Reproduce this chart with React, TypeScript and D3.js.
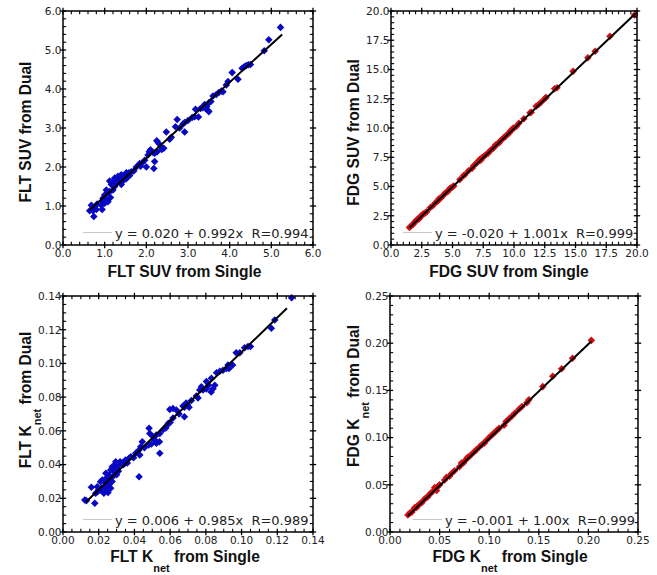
import React from 'react';
import * as d3 from 'd3';

// ---------- Data ----------
// Panel A: FLT SUV
const fltSuvSingle = [5.22,4.94,4.83,4.30,4.35,4.40,4.45,4.50,4.06,3.96,3.92,3.80,3.84,3.74,3.68,3.60,3.40,3.45,3.50,3.42,3.48,3.50,3.35,3.30,3.18,3.10,3.16,3.00,2.92,2.88,2.74,2.70,2.92,2.56,2.60,2.48,2.42,2.37,2.30,2.26,2.20,2.16,2.25,2.07,2.04,2.10,2.18,2.20,1.96,1.90,1.84,2.00,1.76,1.70,1.64,1.58,1.52,1.48,1.40,1.36,1.32,1.28,1.24,1.44,1.40,1.20,1.16,1.12,1.24,1.20,1.12,1.04,1.08,1.00,0.96,1.04,1.00,1.08,0.96,0.92,0.94,0.82,0.76,0.68,0.64,0.72,0.74,0.80,1.30,1.52,1.60,1.86,2.35,1.14,2.80,3.25,3.55,4.20];
const fltSuvDual = [5.58,5.26,4.98,4.53,4.57,4.60,4.62,4.63,4.42,4.19,4.10,3.95,3.93,3.91,3.86,3.82,3.60,3.55,3.65,3.50,3.45,3.42,3.52,3.50,3.48,3.27,3.29,3.19,3.14,3.10,3.22,3.03,2.90,2.71,2.76,2.90,2.48,2.45,2.60,2.39,2.35,2.37,2.67,2.39,2.31,2.44,1.96,2.14,2.17,2.10,2.09,2.00,2.00,1.90,1.88,1.85,1.85,1.76,1.80,1.72,1.76,1.68,1.72,1.64,1.55,1.60,1.55,1.64,1.50,1.41,1.37,1.41,1.32,1.28,1.20,1.15,1.07,1.11,1.11,1.02,0.91,1.05,0.98,1.02,0.88,0.88,0.73,0.91,1.62,1.70,1.78,2.02,2.52,1.22,3.00,3.28,3.68,4.25];

// Panel B: FDG SUV
const fdgSuvSingle = [1.5,1.6,1.8,1.9,2.0,2.1,2.2,2.3,2.4,2.5,2.6,2.7,2.8,2.9,3.2,3.4,3.6,3.8,3.9,4.0,4.1,4.3,4.4,4.6,4.7,4.8,4.9,5.0,5.1,5.6,5.9,6.0,6.3,6.6,6.7,6.9,7.0,7.1,7.2,7.3,7.4,7.5,7.6,7.7,7.9,8.0,8.1,8.3,8.4,8.5,8.6,8.8,8.9,9.0,9.2,9.3,9.4,9.6,9.7,9.8,9.9,10.0,10.2,10.4,10.8,11.3,11.4,11.8,12.0,12.2,12.5,12.6,13.3,13.5,14.8,16.0,16.6,17.8,19.8];
const fdgSuvDual = [1.5,1.6,1.75,1.95,2.0,2.15,2.2,2.25,2.45,2.5,2.65,2.7,2.75,2.85,3.2,3.35,3.6,3.75,3.95,4.0,4.05,4.3,4.45,4.55,4.7,4.85,4.9,4.95,5.05,5.6,5.95,6.0,6.35,6.55,6.75,6.95,7.05,7.15,7.3,7.25,7.45,7.55,7.6,7.7,7.85,8.0,8.1,8.25,8.4,8.55,8.6,8.75,8.9,9.0,9.2,9.25,9.4,9.55,9.75,9.8,9.95,10.0,10.15,10.4,10.8,11.3,11.35,11.85,12.0,12.2,12.5,12.6,13.35,13.45,14.85,16.0,16.55,17.85,19.65];

// Panel C: FLT Knet
const fltKSingle = [0.128,0.1186,0.1167,0.1036,0.1017,0.105,0.099,0.097,0.0924,0.0915,0.0896,0.0878,0.086,0.0831,0.0803,0.0775,0.0766,0.0784,0.0803,0.083,0.084,0.0747,0.0756,0.0719,0.069,0.0672,0.068,0.0696,0.0635,0.0616,0.0598,0.068,0.0616,0.059,0.0576,0.0561,0.0542,0.0482,0.0486,0.0505,0.0523,0.0514,0.054,0.0523,0.0495,0.0542,0.048,0.0444,0.0435,0.0426,0.0407,0.043,0.038,0.0426,0.037,0.035,0.032,0.0295,0.0314,0.0332,0.029,0.030,0.0276,0.0267,0.0285,0.0258,0.024,0.0287,0.0268,0.024,0.022,0.021,0.024,0.0258,0.0267,0.0249,0.0192,0.021,0.0183,0.0229,0.0201,0.0252,0.0159,0.0122,0.0131,0.0178,0.0195,0.0215,0.0232,0.0275,0.030,0.031,0.034,0.036,0.0395,0.0456,0.058,0.060,0.065,0.0706,0.0815,0.085,0.095,0.093];
const fltKDual = [0.139,0.1258,0.1208,0.110,0.1093,0.110,0.1064,0.1064,0.099,0.097,0.096,0.0953,0.0945,0.0912,0.0893,0.0862,0.0843,0.0843,0.0848,0.083,0.085,0.0807,0.0795,0.078,0.0765,0.0747,0.074,0.0757,0.0724,0.0733,0.0727,0.0684,0.0676,0.0645,0.0617,0.0608,0.0585,0.0615,0.0585,0.0565,0.0575,0.0546,0.0536,0.0526,0.0522,0.0467,0.0516,0.0536,0.0506,0.0486,0.0467,0.0457,0.0447,0.0328,0.0437,0.0427,0.0417,0.0417,0.0397,0.041,0.0397,0.0378,0.0387,0.0368,0.036,0.0338,0.0348,0.0338,0.0318,0.0318,0.0308,0.0298,0.0289,0.028,0.0259,0.0249,0.0269,0.0249,0.023,0.023,0.025,0.0235,0.0265,0.019,0.0185,0.017,0.024,0.026,0.027,0.030,0.034,0.036,0.040,0.041,0.044,0.050,0.063,0.065,0.070,0.074,0.087,0.087,0.099,0.097];

// Panel D: FDG Knet
const fdgKSingle = [0.018,0.020,0.022,0.024,0.025,0.027,0.028,0.030,0.032,0.034,0.036,0.038,0.040,0.041,0.043,0.045,0.046,0.047,0.048,0.050,0.055,0.057,0.060,0.062,0.065,0.070,0.072,0.074,0.076,0.078,0.080,0.082,0.085,0.087,0.090,0.093,0.095,0.097,0.100,0.102,0.104,0.106,0.108,0.110,0.115,0.117,0.120,0.123,0.126,0.130,0.133,0.138,0.140,0.154,0.164,0.173,0.184,0.203];
const fdgKDual = [0.018,0.020,0.021,0.024,0.026,0.026,0.028,0.030,0.031,0.034,0.036,0.037,0.040,0.041,0.043,0.047,0.046,0.044,0.048,0.050,0.055,0.058,0.059,0.062,0.065,0.069,0.073,0.073,0.076,0.079,0.080,0.082,0.085,0.087,0.090,0.093,0.094,0.097,0.100,0.102,0.104,0.106,0.108,0.110,0.113,0.117,0.120,0.123,0.126,0.130,0.133,0.137,0.140,0.154,0.165,0.173,0.184,0.203];

// Fitted lines as drawn in the picture: [x start, y start, x end, y end]
const fitLineA = [0.64, 0.90, 5.26, 5.40];
const fitLineB = [1.5, 1.48, 19.9, 19.8];
const fitLineC = [0.0127, 0.0176, 0.1254, 0.1327];
const fitLineD = [0.018, 0.017, 0.203, 0.202];

const axisMax = [6, 20, 0.14, 0.25];
const majorSteps = [1, 2.5, 0.02, 0.05];
const minorSteps = [0.2, 0.5, 0.005, 0.01];
const tickFormats = ['.1f', '.1f', '.2f', '.2f'];
const equations = [
  'y = 0.020 + 0.992x  R=0.994',
  'y = -0.020 + 1.001x  R=0.999',
  'y = 0.006 + 0.985x  R=0.989',
  'y = -0.001 + 1.00x  R=0.999',
];
const xTitles = [['FLT SUV from Single'], ['FDG SUV from Single'], ['FLT K', 'net', ' from Single'], ['FDG K', 'net', ' from Single']];
const yTitles = [['FLT SUV from Dual'], ['FDG SUV from Dual'], ['FLT K', 'net', ' from Dual'], ['FDG K', 'net', ' from Dual']];
const seriesX = [fltSuvSingle, fdgSuvSingle, fltKSingle, fdgKSingle];
const seriesY = [fltSuvDual, fdgSuvDual, fltKDual, fdgKDual];
const fitLines = [fitLineA, fitLineB, fitLineC, fitLineD];
const colors = ['#0808c4', '#d01010', '#0808c4', '#d01010'];

// ---------- Layout ----------
const boxes = [
  { l: 63, r: 313, t: 11, b: 245 },
  { l: 391, r: 637, t: 11, b: 245 },
  { l: 63, r: 313, t: 296, b: 532 },
  { l: 390, r: 638, t: 296, b: 532 },
];
const xTitlePos = [[184.5, 277], [509, 277], [185, 562], [510, 562]];
const yTitlePos = [[31, 132], [359, 132.5], [31, 400], [359, 396]];
const eqStart = [115, 435, 115, 445];

const TICK_FONT = 'DejaVu Sans, Verdana, sans-serif';
const TITLE_FONT = 'Liberation Sans, Arial, Helvetica, sans-serif';

function Title({ parts, x, y, rotate }: { parts: string[]; x: number; y: number; rotate?: boolean }) {
  const content = parts.length === 1 ? parts[0] : (
    <>
      {parts[0]}
      <tspan dy={9.5} fontSize={11}>{parts[1]}</tspan>
      <tspan dy={-9.5}>{parts[2]}</tspan>
    </>
  );
  return (
    <text
      transform={rotate ? `translate(${x},${y}) rotate(-90)` : `translate(${x},${y})`}
      textAnchor="middle"
      fontFamily={TITLE_FONT}
      fontWeight="bold"
      fontSize={15.6}
      fill="#111"
      style={{ whiteSpace: 'pre' }}
    >
      {content}
    </text>
  );
}

function Panel({ i }: { i: number }) {
  const bx = boxes[i];
  const max = axisMax[i];
  const x = d3.scaleLinear().domain([0, max]).range([bx.l, bx.r]);
  const y = d3.scaleLinear().domain([0, max]).range([bx.b, bx.t]);
  const majors = d3.range(0, max + majorSteps[i] / 2, majorSteps[i]);
  const minors = d3.range(0, max + minorSteps[i] / 2, minorSteps[i]).filter(
    (v) => Math.abs(v / majorSteps[i] - Math.round(v / majorSteps[i])) > 1e-6
  );
  const fmt = d3.format(tickFormats[i]);
  const xs = seriesX[i];
  const ys = seriesY[i];
  const pts = xs.map((v, k) => [v, ys[k]] as [number, number]);
  const fl = fitLines[i];
  const line = d3.line<[number, number]>().x((d) => x(d[0])).y((d) => y(d[1]));
  const sym = d3.symbol().type(d3.symbolDiamond2).size(36)();
  const tk = 3.2;
  const es = eqStart[i];
  const eqY = bx.b - 7.5;
  return (
    <g>
      {pts.map(([px, py], k) => (
        <path key={k} d={sym!} transform={`translate(${x(px)},${y(py)})`} fill={colors[i]} />
      ))}
      <path d={line([[fl[0], fl[1]], [fl[2], fl[3]]])!} stroke="#000" strokeWidth={2} fill="none" />
      <line x1={es - 32} x2={es - 3} y1={eqY - 5} y2={eqY - 5} stroke="#c8c8c8" strokeWidth={1} />
      <text x={es} y={eqY} fontFamily={TICK_FONT} fontSize={13} fill="#222" style={{ whiteSpace: 'pre' }}>
        {equations[i]}
      </text>
      <rect x={bx.l} y={bx.t} width={bx.r - bx.l} height={bx.b - bx.t} fill="none" stroke="#000" strokeWidth={1.5} />
      {majors.map((v, k) => (
        <g key={'M' + k} stroke="#000" strokeWidth={1.3}>
          <line x1={x(v)} x2={x(v)} y1={bx.b - tk} y2={bx.b + tk} />
          <line x1={x(v)} x2={x(v)} y1={bx.t - tk} y2={bx.t + tk} />
          <line y1={y(v)} y2={y(v)} x1={bx.l - tk} x2={bx.l + tk} />
          <line y1={y(v)} y2={y(v)} x1={bx.r - tk} x2={bx.r + tk} />
        </g>
      ))}
      {minors.map((v, k) => (
        <g key={'m' + k} stroke="#000" strokeWidth={1.1}>
          <line x1={x(v)} x2={x(v)} y1={bx.b - tk} y2={bx.b} />
          <line x1={x(v)} x2={x(v)} y1={bx.t} y2={bx.t + tk} />
          <line y1={y(v)} y2={y(v)} x1={bx.l} x2={bx.l + tk} />
          <line y1={y(v)} y2={y(v)} x1={bx.r - tk} x2={bx.r} />
        </g>
      ))}
      {majors.map((v, k) => (
        <text key={'xl' + k} x={x(v)} y={bx.b + 11.5} textAnchor="middle" fontFamily={TICK_FONT} fontSize={10.5} fill="#222">
          {fmt(v)}
        </text>
      ))}
      {majors.map((v, k) => (
        <text key={'yl' + k} x={bx.l - 1.5} y={y(v) + 3.8} textAnchor="end" fontFamily={TICK_FONT} fontSize={10.5} fill="#222">
          {fmt(v)}
        </text>
      ))}
      <Title parts={xTitles[i]} x={xTitlePos[i][0]} y={xTitlePos[i][1]} />
      <Title parts={yTitles[i]} x={yTitlePos[i][0]} y={yTitlePos[i][1]} rotate />
    </g>
  );
}

export default function App() {
  return (
    <svg
      width={657}
      height={575}
      viewBox="0 0 657 575"
      style={{ position: 'absolute', left: 0, top: 0, background: '#fff' }}
    >
      <rect x={0} y={0} width={657} height={575} fill="#fff" />
      {[0, 1, 2, 3].map((i) => (
        <Panel key={i} i={i} />
      ))}
    </svg>
  );
}
